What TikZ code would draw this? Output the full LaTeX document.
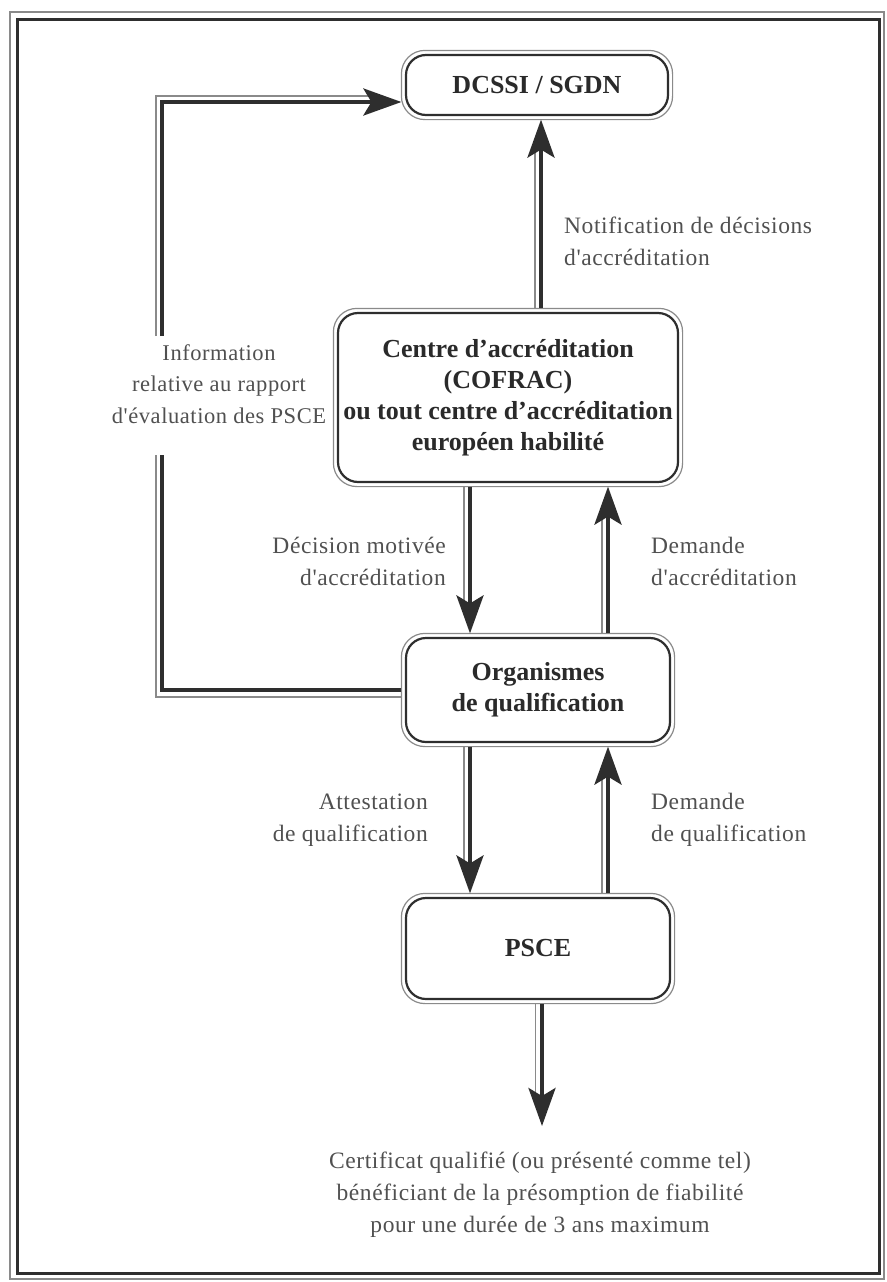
\documentclass[tikz,border=0pt]{standalone}
\usepackage{fontspec}
\setmainfont{Liberation Serif}
\newfontfamily\lblfont[LetterSpace=2.5]{Liberation Serif}
\usetikzlibrary{arrows.meta,calc}
\definecolor{ink}{HTML}{2A2A2A}
\definecolor{lbl}{HTML}{505050}
\definecolor{dk}{HTML}{2E2E2E}
\definecolor{lt}{HTML}{8A8A8A}
\begin{document}
\begin{tikzpicture}[x=1pt,y=-1pt,
 box/.style={draw=dk, line width=2.2pt, rounded corners=20pt, fill=white, align=center, text=ink,
   font=\fontsize{26}{31}\selectfont\bfseries, inner sep=0pt},
 lab/.style={text=lbl, font=\lblfont\fontsize{23.5}{32}\selectfont, inner sep=0pt},
 dline/.style={draw=dk, line width=4pt},
 lline/.style={draw=lt, line width=1.3pt},
 tip/.style={-{Stealth[length=38pt,width=27pt,inset=8pt]}},
 outline/.style={draw=lt, line width=1.2pt, rounded corners=23.5pt}
]
\useasboundingbox (0,0) rectangle (886,1282);
% frame
\draw[lt, line width=1.2pt] (10,12) rectangle (884,1279);
\draw[dk, line width=3pt] (17,19) rectangle (879,1273);

% boxes
\node[box, minimum width=262pt, minimum height=60pt] (dcssi) at (537,85) {DCSSI / SGDN};
\node[box, minimum width=340pt, minimum height=169pt] (cen) at (508,397.5)
  {Centre d'accréditation\\(COFRAC)\\ou tout centre d'accréditation\\européen habilité};
\node[box, minimum width=264pt, minimum height=104pt] (org) at (538,690)
  {Organismes\\de qualification};
\node[box, minimum width=264pt, minimum height=101pt] (psce) at (538,948.5) {PSCE};
\foreach \n in {dcssi,cen,org,psce}
  \draw[outline] ($(\n.south west)+(-3.5,3.5)$) rectangle ($(\n.north east)+(3.5,-3.5)$);

% Centre -> DCSSI
\draw[lline] ($(cen.north -| dcssi.south)+(-2,-3.5)$) -- ($(dcssi.south)+(-2,36)$);
\draw[dline, tip] ($(cen.north -| dcssi.south)+(4,-3.5)$) -- ($(dcssi.south)+(4,3.5)$);

% Centre -> Org (down)
\draw[lline] ($(cen.south -| org.north)+(-74,3.5)$) -- ($(org.north)+(-74,-36)$);
\draw[dline, tip] ($(cen.south -| org.north)+(-68,3.5)$) -- ($(org.north)+(-68,-3.5)$);
% Org -> Centre (up)
\draw[lline] ($(org.north)+(64,-3.5)$) -- ($(cen.south -| org.north)+(64,36)$);
\draw[dline, tip] ($(org.north)+(70,-3.5)$) -- ($(cen.south -| org.north)+(70,3.5)$);

% Org -> PSCE (down)
\draw[lline] ($(org.south)+(-74,3.5)$) -- ($(psce.north)+(-74,-36)$);
\draw[dline, tip] ($(org.south)+(-68,3.5)$) -- ($(psce.north)+(-68,-3.5)$);
% PSCE -> Org (up)
\draw[lline] ($(psce.north)+(64,-3.5)$) -- ($(org.south)+(64,36)$);
\draw[dline, tip] ($(psce.north)+(70,-3.5)$) -- ($(org.south)+(70,3.5)$);

% PSCE -> out
\coordinate (out) at (542,1126);
\coordinate (outl) at (535.5,1092);
\draw[lline] ($(psce.south)+(-2.5,3.5)$) -- (outl);
\draw[dline, tip] ($(psce.south)+(4,3.5)$) -- (out);

% left loop
\coordinate (lb) at (162,690);
\coordinate (lg1) at (162,455);
\coordinate (lg2) at (162,336);
\coordinate (lt) at (162,102);
\coordinate (lbl) at (156,697);
\coordinate (lg1l) at (156,455);
\coordinate (lg2l) at (156,336);
\coordinate (ltl) at (156,96);
\coordinate (lend) at (369,96);
\draw[lline] ($(org.west)+(-3.5,7)$) -- (lbl) -- (lg1l);
\draw[lline] (lg2l) -- (ltl) -- (lend);
\draw[dline] ($(org.west)+(-3.5,0)$) -- (lb) -- (lg1);
\draw[dline, tip] (lg2) -- (lt) -- ($(dcssi.west)+(-3.5,17)$);

% labels
\node[lab, align=center, font=\lblfont\fontsize{22.5}{31.5}\selectfont] (info) at (219,384) {Information\\relative au rapport\\d'évaluation des PSCE};
\node[lab, align=left, anchor=west] (notif) at (564,241) {Notification de décisions\\d'accréditation};
\node[lab, align=right, anchor=east] (decis) at (446,561) {Décision motivée\\d'accréditation};
\node[lab, align=left, anchor=west] (dacc) at (651,561) {Demande\\d'accréditation};
\node[lab, align=right, anchor=east] (attest) at (428,820) {Attestation\\de qualification};
\node[lab, align=left, anchor=west] (dqual) at (651,820) {Demande\\de qualification};
\node[lab, align=center] (cert) at (540,1195) {Certificat qualifié (ou présenté comme tel)\\bénéficiant de la présomption de fiabilité\\pour une durée de 3 ans maximum};
\end{tikzpicture}
\end{document}
